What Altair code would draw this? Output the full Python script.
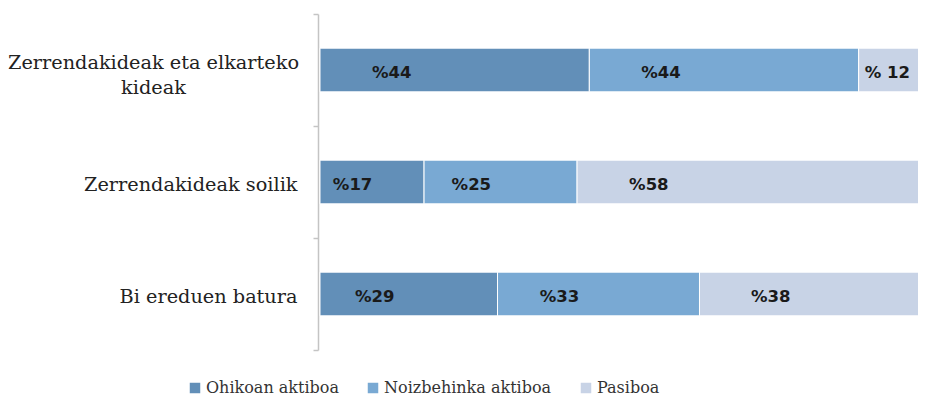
import altair as alt
import pandas as pd

categories = ["Zerrendakideak eta elkarteko kideak", "Zerrendakideak soilik", "Bi ereduen batura"]
series = ["Ohikoan aktiboa", "Noizbehinka aktiboa", "Pasiboa"]
ohikoan = [44, 17, 29]
noizbehinka = [44, 25, 33]
pasiboa = [12, 58, 38]
label_ohikoan = ["%44", "%17", "%29"]
label_noizbehinka = ["%44", "%25", "%33"]
label_pasiboa = ["% 12", "%58", "%38"]
colors = ["#628fb8", "#79a9d3", "#c8d3e6"]

rows = []
for i, cat in enumerate(categories):
    for j, (vals, labs) in enumerate(zip([ohikoan, noizbehinka, pasiboa],
                                         [label_ohikoan, label_noizbehinka, label_pasiboa])):
        rows.append({"category": cat, "series": series[j], "order": j,
                     "value": vals[i], "label": labs[i]})
df = pd.DataFrame(rows)

first = categories[0]
# the reference is cropped on the right: the 100% end lies just past the picture edge
xscale = alt.Scale(domain=[0, 97.7], nice=False, zero=True)
yscale = alt.Scale(domain=categories, paddingInner=0, paddingOuter=0)

is_first = f"datum.value === '{first}'"
yaxis = alt.Axis(
    title=None,
    domainColor="#c4c4c4", domainWidth=1.5, offset=2,
    ticks=True, tickBand="extent", tickSize=5, tickColor="#c4c4c4", tickWidth=1.5,
    grid=False,
    labelFont="DejaVu Serif", labelFontSize=19.3, labelColor="#222222",
    labelLimit=400, labelBaseline="middle", labelLineHeight=25,
    labelAlign={"condition": {"test": is_first, "value": "center"}, "value": "right"},
    labelPadding={"condition": {"test": is_first, "value": 160}, "value": 16},
    labelOffset={"condition": {"test": is_first, "value": -8}, "value": 2},
    labelExpr=f"{is_first} ? ['Zerrendakideak eta elkarteko', 'kideak'] : datum.label",
)

bars = alt.Chart(df).mark_bar(height=alt.RelativeBandSize(0.39), stroke="white", strokeWidth=1).encode(
    x=alt.X("value:Q", stack="zero", scale=xscale, axis=None),
    y=alt.Y("category:N", sort=categories, scale=yscale, axis=yaxis),
    color=alt.Color("series:N", scale=alt.Scale(domain=series, range=colors),
                    legend=alt.Legend(title=None, orient="none", direction="horizontal",
                                      legendX=-133, legendY=366, symbolType="square",
                                      symbolSize=110, symbolStrokeWidth=0,
                                      labelFont="DejaVu Serif", labelFontSize=16,
                                      labelLimit=300,
                                      labelColor="#333333", columnPadding=26, labelOffset=3)),
    order=alt.Order("order:Q"),
)

text = alt.Chart(df).transform_window(
    cum="sum(value)", groupby=["category"], sort=[alt.SortField("order")], frame=[None, 0]
).transform_calculate(
    pos="datum.cum - datum.value + min(8.5, max(1, datum.value * 0.3 - 3))"
).mark_text(align="left", baseline="middle", dy=3, font="DejaVu Sans", fontWeight="bold",
            fontSize=16.5, color="#1a1a1a").encode(
    x=alt.X("pos:Q", scale=xscale, axis=None),
    y=alt.Y("category:N", sort=categories, scale=yscale, axis=yaxis),
    text="label:N",
)

chart = alt.layer(bars, text).properties(
    width=598, height=336,
    autosize=alt.AutoSizeParams(type="none"),
    padding={"left": 312, "top": 6, "right": 0, "bottom": 50},
).configure_view(stroke=None)

chart.save("out.html", embed_options={"renderer": "svg", "actions": False})
